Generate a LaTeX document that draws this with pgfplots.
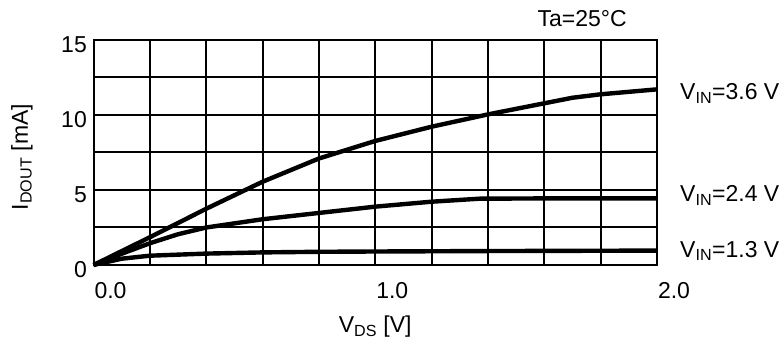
\documentclass[border=0pt]{standalone}
\usepackage{fontspec}
\setmainfont{Liberation Sans}
\usepackage{pgfplots}
\pgfplotsset{compat=1.18}
\newcommand{\bigf}{\fontsize{23}{27}\selectfont}
\begin{document}
\begin{tikzpicture}
\begin{axis}[
  scale only axis, width=563.5pt, height=225pt,
  xmin=0, xmax=2, ymin=0, ymax=15,
  clip=false,
  axis line style={black, line width=2pt},
  grid=major, grid style={black, line width=2pt},
  major grid style={black, line width=2pt},
  major tick length=0pt,
  xtick={0,0.2,0.4,0.6,0.8,1,1.2,1.4,1.6,1.8,2},
  xticklabels={0.0,,,,,1.0,,,,,2.0},
  ytick={0,2.5,5,7.5,10,12.5,15},
  yticklabels={0,,5,,10,,15},
  tick label style={font=\bigf, inner sep=0pt},
  xticklabel style={anchor=north, yshift=-17pt, xshift=17pt},
  yticklabel style={anchor=east, xshift=-6.5pt, yshift=-5pt},
]
\addplot[black, no markers, line width=4.4pt, line join=round] coordinates {(0,0) (0.2,1.85) (0.4,3.75) (0.6,5.55) (0.8,7.1) (1.0,8.27) (1.2,9.22) (1.4,10.04) (1.6,10.78) (1.7,11.15) (1.8,11.38) (2.0,11.71)};
\addplot[black, no markers, line width=4.4pt, line join=round] coordinates {(0,0) (0.1,0.75) (0.2,1.45) (0.3,2.05) (0.4,2.5) (0.6,3.05) (0.8,3.47) (1.0,3.89) (1.2,4.22) (1.37,4.42) (1.6,4.44) (2.0,4.44)};
\addplot[black, no markers, line width=4.4pt, line join=round] coordinates {(0,0) (0.1,0.42) (0.2,0.62) (0.4,0.76) (0.6,0.84) (0.8,0.88) (1.0,0.9) (1.4,0.93) (2.0,0.96)};
\path (axis cs:-0.3319,-5) rectangle (axis cs:2.4472,17.667);
\node[rotate=90, font=\bigf, inner sep=0pt] at (axis cs:-0.254,7.2) {I\textsubscript{DOUT} [mA]};
\node[anchor=base, font=\bigf, inner sep=0pt] at (axis cs:1.0,-4.53) {V\textsubscript{DS} [V]};
\node[anchor=base, font=\bigf, inner sep=0pt] at (axis cs:1.734,15.87) {Ta=25°C};
\node[anchor=base west, font=\bigf, inner sep=0pt] at (axis cs:2.0816,11.0) {V\textsubscript{IN}=3.6 V};
\node[anchor=base west, font=\bigf, inner sep=0pt] at (axis cs:2.0816,4.2) {V\textsubscript{IN}=2.4 V};
\node[anchor=base west, font=\bigf, inner sep=0pt] at (axis cs:2.0816,0.53) {V\textsubscript{IN}=1.3 V};
\end{axis}
\end{tikzpicture}
\end{document}
